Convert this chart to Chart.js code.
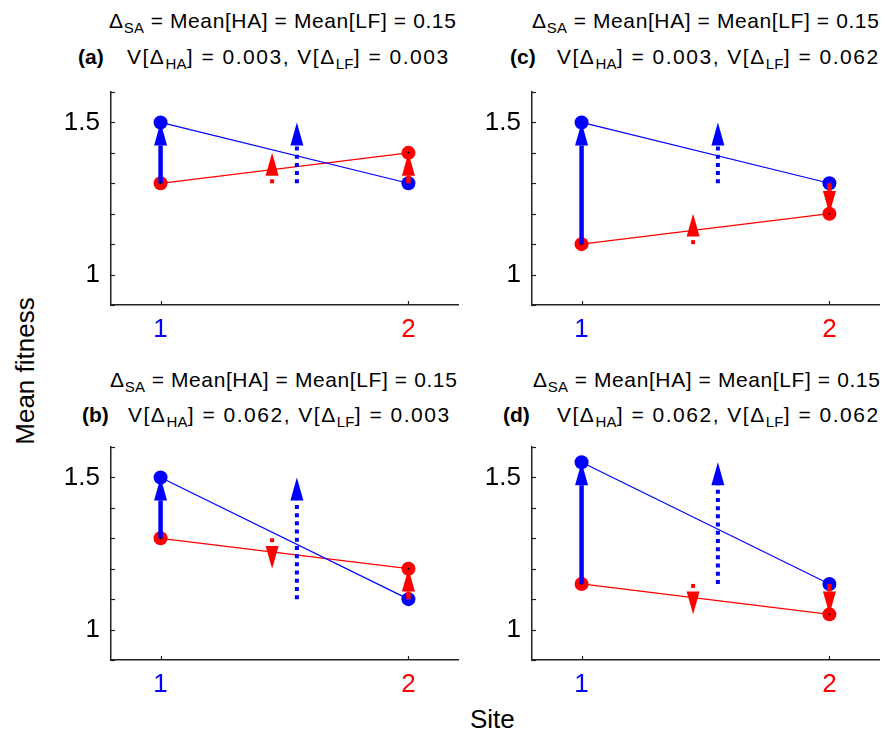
<!DOCTYPE html>
<html>
<head>
<meta charset="utf-8">
<script src="https://cdn.jsdelivr.net/npm/chart.js@4/dist/chart.umd.min.js"></script>
<style>
  body { margin: 0; background: #fff; width: 889px; height: 733px; position: relative; overflow: hidden;
         font-family: 'Liberation Sans', Arial, sans-serif; color: #000; }
  canvas { position: absolute; }
  .t { position: absolute; white-space: nowrap; font-size: 21px; line-height: 21px; letter-spacing: 0.6px; }
  .t2 { letter-spacing: 1.5px; }
  .t sub { font-size: 15px; position: relative; top: 5px; vertical-align: baseline; line-height: 0; letter-spacing: 0.3px; }
  .b { font-weight: bold; letter-spacing: 0; }
  .ax { position: absolute; white-space: nowrap; font-size: 26px; line-height: 26px; }
</style>
</head>
<body>

<div class="t" style="left:109px;top:10px">&Delta;<sub>SA</sub> = Mean[HA] = Mean[LF] = 0.15</div>
<div class="t b" style="left:78px;top:46px">(a)</div>
<div class="t t2" style="left:127px;top:46px">V[&Delta;<sub>HA</sub>] = 0.003, V[&Delta;<sub>LF</sub>] = 0.003</div>

<div class="t" style="left:532px;top:10px">&Delta;<sub>SA</sub> = Mean[HA] = Mean[LF] = 0.15</div>
<div class="t b" style="left:510px;top:46px">(c)</div>
<div class="t t2" style="left:557px;top:46px">V[&Delta;<sub>HA</sub>] = 0.003, V[&Delta;<sub>LF</sub>] = 0.062</div>

<div class="t" style="left:110px;top:369px">&Delta;<sub>SA</sub> = Mean[HA] = Mean[LF] = 0.15</div>
<div class="t b" style="left:82px;top:404px">(b)</div>
<div class="t t2" style="left:128px;top:404px">V[&Delta;<sub>HA</sub>] = 0.062, V[&Delta;<sub>LF</sub>] = 0.003</div>

<div class="t" style="left:533px;top:369px">&Delta;<sub>SA</sub> = Mean[HA] = Mean[LF] = 0.15</div>
<div class="t b" style="left:503px;top:404px">(d)</div>
<div class="t t2" style="left:557px;top:404px">V[&Delta;<sub>HA</sub>] = 0.062, V[&Delta;<sub>LF</sub>] = 0.062</div>

<div class="ax" style="left:25px;top:371px;transform:translate(-50%,-50%) rotate(-90deg)">Mean fitness</div>
<div class="ax" style="left:470px;top:706px">Site</div>

<canvas id="pa" width="414" height="265" style="left:51px;top:85px"></canvas>
<canvas id="pc" width="414" height="265" style="left:472px;top:85px"></canvas>
<canvas id="pb" width="414" height="265" style="left:51px;top:440px"></canvas>
<canvas id="pd" width="414" height="265" style="left:472px;top:440px"></canvas>

<script>
// sites on the x axis and their tick labels
const sites = [1, 2];
const siteLabels = ['1', '2'];
const siteColors = ['#0000ff', '#ff0000'];
// labelled y ticks
const yLabelled = [1, 1.5];

// x positions of the two dotted (mean) arrows: red then blue
const dotX = [1.45, 1.55];

// mean fitness at site 1 and site 2
const blueA = [1.5, 1.3];
const redA = [1.3, 1.4];
const blueB = [1.5, 1.1];
const redB = [1.3, 1.2];
const blueC = [1.5, 1.3];
const redC = [1.1, 1.2];
const blueD = [1.55, 1.15];
const redD = [1.15, 1.05];

// dotted arrows [from, to]
const dotBlueA = [1.3, 1.5];
const dotRedA = [1.3, 1.4];
const dotBlueB = [1.1, 1.5];
const dotRedB = [1.3, 1.2];
const dotBlueC = [1.3, 1.5];
const dotRedC = [1.1, 1.2];
const dotBlueD = [1.15, 1.55];
const dotRedD = [1.15, 1.05];

const BLUE = '#0000ff';
const RED = '#ff0000';

function drawArrow(ctx, x, p0, p1, color, dotted) {
  const dir = Math.sign(p1 - p0);
  const len = Math.abs(p1 - p0);
  const headLen = Math.min(23, len * 0.75);
  const half = 6.5;
  const base = p1 - dir * headLen;
  ctx.save();
  ctx.strokeStyle = color;
  ctx.fillStyle = color;
  ctx.lineWidth = dotted ? 4 : 4.5;
  ctx.lineCap = 'butt';
  if (len > headLen) {
    ctx.setLineDash(dotted ? [4, 4.2] : []);
    ctx.beginPath();
    ctx.moveTo(x, p0);
    ctx.lineTo(x, base);
    ctx.stroke();
  }
  ctx.setLineDash([]);
  ctx.beginPath();
  ctx.moveTo(x, p1);
  ctx.lineTo(x - half, base);
  ctx.lineTo(x + half, base);
  ctx.closePath();
  ctx.fill();
  ctx.restore();
}

// arrows, inward ticks and the small black centre dots
const arrowPlugin = {
  id: 'arrows',
  afterDatasetsDraw(chart, args, opts) {
    const ctx = chart.ctx;
    const xs = chart.scales.x, ys = chart.scales.y;
    const a = chart.chartArea;
    // inward ticks
    ctx.save();
    ctx.strokeStyle = '#222';
    ctx.lineWidth = 1.2;
    ys.ticks.forEach(t => {
      const py = Math.round(ys.getPixelForValue(t.value)) + 0.5;
      ctx.beginPath(); ctx.moveTo(a.left, py); ctx.lineTo(a.left + 4, py); ctx.stroke();
    });
    sites.forEach(s => {
      const px = Math.round(xs.getPixelForValue(s)) + 0.5;
      ctx.beginPath(); ctx.moveTo(px, a.bottom); ctx.lineTo(px, a.bottom - 4); ctx.stroke();
    });
    ctx.restore();

    const blue = opts.blue, red = opts.red;
    const x1 = xs.getPixelForValue(sites[0]);
    const x2 = xs.getPixelForValue(sites[1]);
    // site 1: red -> blue, site 2: blue -> red
    drawArrow(ctx, x1, ys.getPixelForValue(red[0]), ys.getPixelForValue(blue[0]), BLUE, false);
    drawArrow(ctx, x2, ys.getPixelForValue(blue[1]), ys.getPixelForValue(red[1]), RED, false);
    drawArrow(ctx, xs.getPixelForValue(dotX[0]), ys.getPixelForValue(opts.dotRed[0]), ys.getPixelForValue(opts.dotRed[1]), RED, true);
    drawArrow(ctx, xs.getPixelForValue(dotX[1]), ys.getPixelForValue(opts.dotBlue[0]), ys.getPixelForValue(opts.dotBlue[1]), BLUE, true);

    ctx.save();
    ctx.fillStyle = '#000';
    [[x1, red[0]], [x2, red[1]]].forEach(([px, v]) => {
      ctx.beginPath(); ctx.arc(px, ys.getPixelForValue(v), 1, 0, Math.PI * 2); ctx.fill();
    });
    ctx.restore();
  }
};

function makePanel(id, blue, red, dotBlue, dotRed) {
  const pts = vals => sites.map((s, i) => ({ x: s, y: vals[i] }));
  return new Chart(document.getElementById(id), {
    type: 'scatter',
    data: {
      datasets: [
        { data: pts(blue), showLine: true, borderColor: BLUE, borderWidth: 1.2,
          pointRadius: 7, pointBackgroundColor: BLUE, pointBorderWidth: 0 },
        { data: pts(red), showLine: true, borderColor: RED, borderWidth: 1.2,
          pointRadius: 7, pointBackgroundColor: RED, pointBorderWidth: 0 }
      ]
    },
    options: {
      responsive: false,
      animation: false,
      events: [],
      layout: { padding: { top: 5, right: 5, left: 0, bottom: 0 } },
      plugins: {
        legend: { display: false },
        tooltip: { enabled: false },
        arrows: { blue, red, dotBlue, dotRed }
      },
      scales: {
        x: {
          type: 'linear', min: 0.8, max: 2.2,
          afterBuildTicks: s => { s.ticks = sites.map(v => ({ value: v })); },
          afterFit: s => { s.height = 45; s.paddingLeft = 0; s.paddingRight = 0; },
          ticks: {
            autoSkip: false, maxRotation: 0, padding: 9,
            font: { family: "'Liberation Sans', Arial, sans-serif", size: 26 },
            color: c => siteColors[sites.indexOf(c.tick.value)] || '#000',
            callback: v => siteLabels[sites.indexOf(v)] ?? ''
          },
          grid: { drawOnChartArea: false, drawTicks: false },
          border: { color: '#222', width: 1.5 }
        },
        y: {
          min: 0.9, max: 1.6,
          afterFit: s => { s.width = 60; s.paddingTop = 0; s.paddingBottom = 0; },
          ticks: {
            stepSize: 0.1, padding: 11, color: '#000', autoSkip: false,
            font: { family: "'Liberation Sans', Arial, sans-serif", size: 26 },
            callback: v => {
              const k = yLabelled.findIndex(w => Math.abs(w - v) < 1e-9);
              return k >= 0 ? String(yLabelled[k]) : '';
            }
          },
          grid: { drawOnChartArea: false, drawTicks: false },
          border: { color: '#222', width: 1.5 }
        }
      }
    },
    plugins: [arrowPlugin]
  });
}

makePanel('pa', blueA, redA, dotBlueA, dotRedA);
makePanel('pc', blueC, redC, dotBlueC, dotRedC);
makePanel('pb', blueB, redB, dotBlueB, dotRedB);
makePanel('pd', blueD, redD, dotBlueD, dotRedD);
</script>
</body>
</html>
